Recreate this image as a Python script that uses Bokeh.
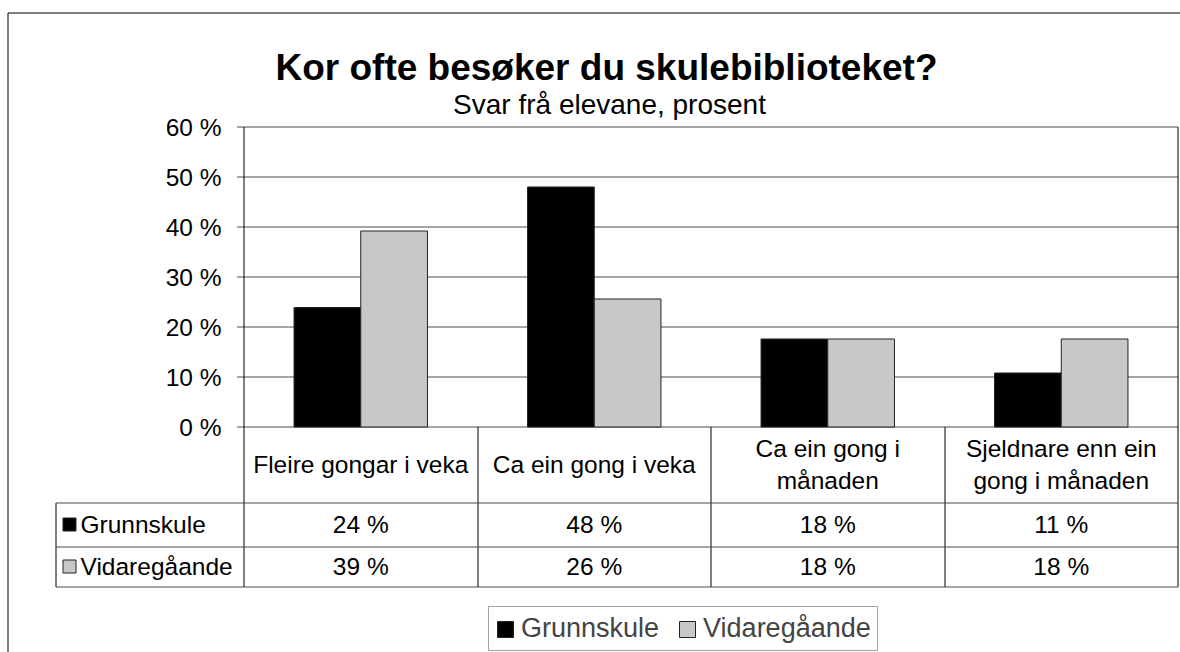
import numpy as np
from bokeh.plotting import figure
from bokeh.models import Range1d, ColumnDataSource, Legend, LegendItem
from bokeh.core.properties import value
from bokeh.transform import dodge
from bokeh.embed import file_html
from bokeh.resources import INLINE

# ---------------- data ----------------
title_text = "Kor ofte besøker du skulebiblioteket?"
subtitle_text = "Svar frå elevane, prosent"
categories = ["Fleire gongar i veka", "Ca ein gong i veka",
              "Ca ein gong i\nmånaden", "Sjeldnare enn ein\ngong i månaden"]
series = ["Grunnskule", "Vidaregåande"]
grunnskule = [23.9, 48.0, 17.6, 10.8]
vidaregaande = [39.2, 25.6, 17.6, 17.6]
y_ticks = [0, 10, 20, 30, 40, 50, 60]
y_tick_labels = ["0 %", "10 %", "20 %", "30 %", "40 %", "50 %", "60 %"]

# ---------------- layout (canvas pixels) ----------------
W, H = 1180, 652
PX_X = 233.5        # px per category cell
X0 = 243.5          # canvas x of plot-area left edge
PX_Y = 5.0          # px per percent
Y0 = 426.5          # canvas y of 0 %
FONT = value("Liberation Sans")
TXT = "24.5px"


def dx(cx):
    return (cx - X0) / PX_X


def dy(cy):
    return (Y0 - cy) / PX_Y


def snap_x(v):
    # data x -> data x of the nearest pixel centre (crisp 1px lines)
    return dx(np.floor(X0 + v * PX_X) + 0.5)


p = figure(width=W, height=H, output_backend="svg", toolbar_location=None,
           x_range=Range1d(dx(0), dx(W)), y_range=Range1d(dy(H), dy(0)),
           x_axis_location=None, y_axis_location=None,
           min_border=0, outline_line_color=None,
           background_fill_color="white", border_fill_color="white")
for g in p.grid:
    g.visible = False

n = len(categories)
pos = [i + 0.5 for i in range(n)]
bar_w = 1 / 3.5

src = ColumnDataSource(dict(
    x=pos, cat=categories, g=grunnskule, v=vidaregaande,
    g_lab=[f"{round(a)} %" for a in grunnskule],
    v_lab=[f"{round(b)} %" for b in vidaregaande],
))

ymax = max(y_ticks)
t_bottom = dy(586.5)
x_right = snap_x(n)

# grid lines + tick marks
p.segment(x0=dx(236.5), x1=x_right, y0=y_ticks, y1=y_ticks, line_color="#4a4a4a", line_width=1)

# bars
r_g = p.vbar(x=dodge("x", -bar_w / 2, range=p.x_range), top="g", bottom=0, width=bar_w,
             source=src, fill_color="#000000", line_color="#222222", line_width=1)
r_v = p.vbar(x=dodge("x", bar_w / 2, range=p.x_range), top="v", bottom=0, width=bar_w,
             source=src, fill_color="#c8c8c8", line_color="#222222", line_width=1)

# axis / table vertical lines
p.segment(x0=[0, x_right], x1=[0, x_right], y0=[ymax, ymax], y1=[t_bottom, t_bottom],
          line_color="#000000", line_width=1)
div_x = [snap_x(i) for i in range(1, n)]
p.segment(x0=div_x, x1=div_x, y0=[0] * (n - 1), y1=[t_bottom] * (n - 1),
          line_color="#000000", line_width=1)
row_left = dx(55.5)
p.segment(x0=[row_left], x1=[row_left], y0=[dy(502.5)], y1=[t_bottom], line_color="#000000", line_width=1)
# table horizontal lines
hy = [dy(502.5), dy(546.5), t_bottom]
p.segment(x0=[row_left] * 3, x1=[x_right] * 3, y0=hy, y1=hy, line_color="#4a4a4a", line_width=1)

# outer chart border (left + top)
p.segment(x0=[dx(7.5), dx(7.5)], x1=[dx(7.5), dx(W)], y0=[dy(12.5), dy(12.5)], y1=[dy(H), dy(12.5)],
          line_color="#000000", line_width=1)

# titles
p.text(x=[dx(606)], y=[dy(67)], text=[title_text], text_font=FONT, text_font_size="37px",
       text_font_style="bold", text_align="center", text_baseline="alphabetic", text_color="#000000")
p.text(x=[dx(609)], y=[dy(104)], text=[subtitle_text], text_font=FONT, text_font_size="28px",
       text_align="center", text_baseline="alphabetic", text_color="#000000")

# y tick labels
p.text(x=[dx(221)] * len(y_ticks), y=y_ticks, text=y_tick_labels, text_font=FONT,
       text_font_size=TXT, text_align="right", text_baseline="middle", text_color="#000000")

# table: category header
p.text(x="x", y=dy(464), text="cat", source=src, text_font=FONT, text_font_size=TXT,
       text_align="center", text_baseline="middle", text_line_height=1.2, text_color="#000000")
# table: values
p.text(x="x", y=dy(524), text="g_lab", source=src, text_font=FONT, text_font_size=TXT,
       text_align="center", text_baseline="middle", text_color="#000000")
p.text(x="x", y=dy(566), text="v_lab", source=src, text_font=FONT, text_font_size=TXT,
       text_align="center", text_baseline="middle", text_color="#000000")

# table: row headers
row_y = [dy(524), dy(566)]
p.scatter(x=[dx(69)] * 2, y=row_y, marker="square", size=13,
          fill_color=["#000000", "#c8c8c8"], line_color="#222222", line_width=1)
p.text(x=[dx(80)] * 2, y=row_y, text=series, text_font=FONT, text_font_size=TXT,
       text_align="left", text_baseline="middle", text_color="#000000")

# legend (top-left corner at canvas (488, 609); location = bottom-left from frame bottom)
leg_h = 42
legend = Legend(items=[LegendItem(label=series[0], renderers=[r_g]),
                       LegendItem(label=series[1], renderers=[r_v])],
                orientation="horizontal", location=(488, H - 609 - leg_h),
                label_text_font="Liberation Sans", label_text_font_size="27px",
                glyph_width=20, glyph_height=20, label_standoff=6, spacing=18,
                padding=6, margin=0, border_line_color="#4a4a4a", border_line_width=1,
                background_fill_color="white", background_fill_alpha=1.0)
p.add_layout(legend)

open("out.html", "w").write(file_html(p, INLINE))
